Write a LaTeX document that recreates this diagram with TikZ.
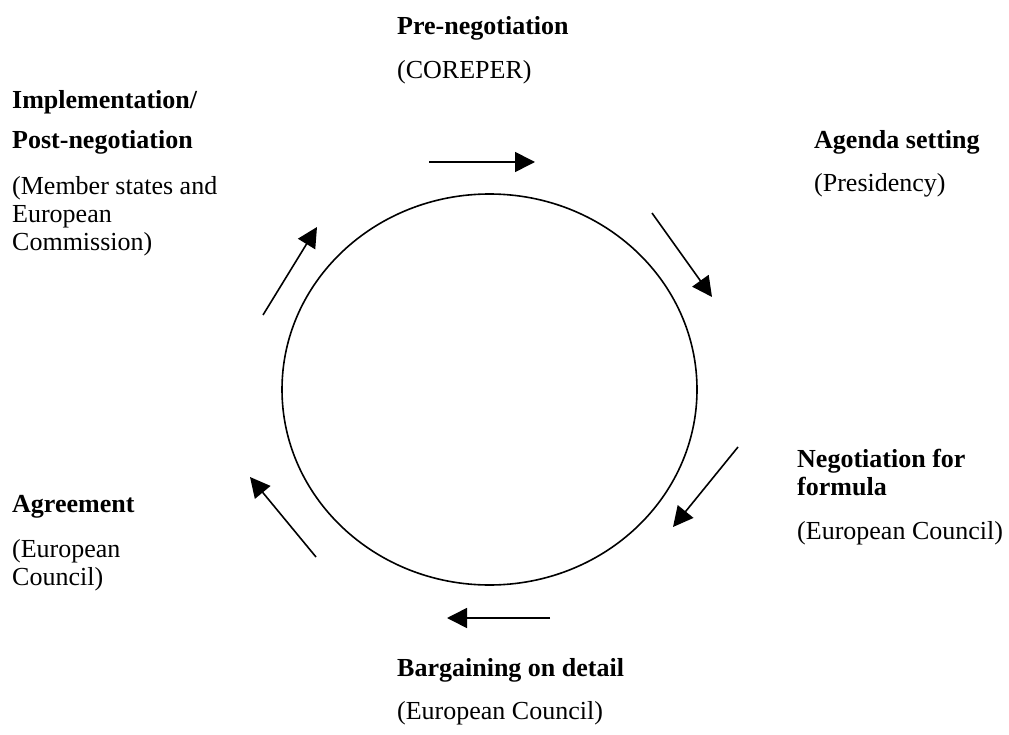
\documentclass[tikz,border=0pt]{standalone}
\usepackage{fontspec}
\setmainfont{Liberation Serif}
\usetikzlibrary{arrows.meta,shapes.geometric}
\begin{document}
\begin{tikzpicture}[x=1pt,y=-1pt,
  lbl/.style={anchor=base west,inner sep=0pt,font=\fontsize{26}{28}\selectfont},
  hd/.style={lbl,font=\fontsize{26}{28}\selectfont\bfseries},
  cyc/.style={line width=1.6pt,-{Triangle[length=20pt,width=20pt]}}]
\useasboundingbox (0,0) rectangle (1009,735);
\node[draw,line width=1.6pt,ellipse,minimum width=415pt,minimum height=391pt,inner sep=0pt] (c) at (489.5,389.5) {};
% labels
\node[hd] (pre) at (397,35) {Pre-negotiation};
\node[lbl] (pres) at (397,79) {(COREPER)};
\node[hd] (imp1) at (12,109) {Implementation/};
\node[hd] (imp2) at (12,149) {Post-negotiation};
\node[lbl] (imp3) at (12,195) {(Member states and};
\node[lbl] (imp4) at (12,223) {European};
\node[lbl] (imp5) at (12,251) {Commission)};
\node[hd] (ag) at (814,149) {Agenda setting};
\node[lbl] (ags) at (814,192) {(Presidency)};
\node[hd] (neg1) at (797,467) {Negotiation for};
\node[hd] (neg2) at (797,495) {formula};
\node[lbl] (negs) at (797,539) {(European Council)};
\node[hd] (agr) at (12,512) {Agreement};
\node[lbl] (agr2) at (12,557) {(European};
\node[lbl] (agr3) at (12,585) {Council)};
\node[hd] (bar) at (397,676) {Bargaining on detail};
\node[lbl] (bars) at (397,719) {(European Council)};
% arrows
\coordinate (a1s) at (429,162); \coordinate (a1e) at (535,162);
\coordinate (a2s) at (652,213); \coordinate (a2e) at (712,297);
\coordinate (a3s) at (738,447); \coordinate (a3e) at (673,527);
\coordinate (a4s) at (550,618); \coordinate (a4e) at (447,618);
\coordinate (a5s) at (316,557); \coordinate (a5e) at (250,477);
\coordinate (a6s) at (263,315); \coordinate (a6e) at (317,227);
\draw[cyc] (a1s) -- (a1e);
\draw[cyc] (a2s) -- (a2e);
\draw[cyc] (a3s) -- (a3e);
\draw[cyc] (a4s) -- (a4e);
\draw[cyc] (a5s) -- (a5e);
\draw[cyc] (a6s) -- (a6e);
\end{tikzpicture}
\end{document}
